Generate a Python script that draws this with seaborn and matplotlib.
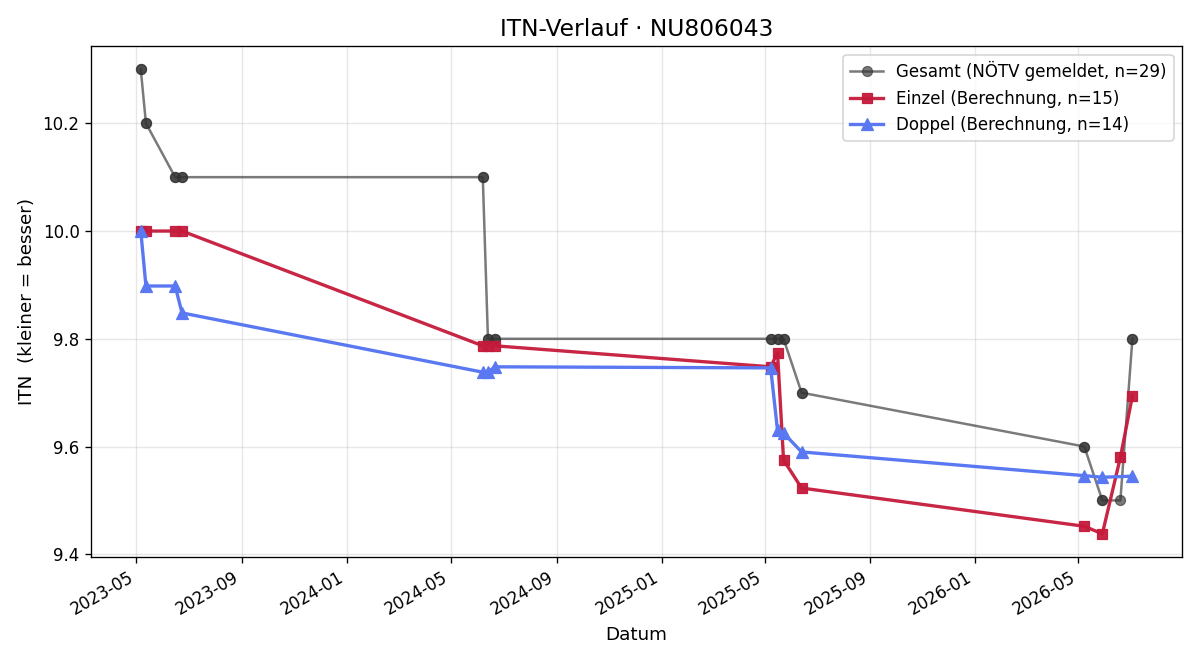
import pandas as pd
import numpy as np
import matplotlib.pyplot as plt
import matplotlib.dates as mdates
import seaborn as sns

# Gesamt (reported ITN, one point per match -> dates repeat)
gesamt_dates = ["2023-05-06","2023-05-06","2023-05-12","2023-05-12","2023-06-15","2023-06-15",
                "2023-06-23","2023-06-23","2024-06-07","2024-06-07","2024-06-13","2024-06-13",
                "2024-06-21","2024-06-21","2025-05-08","2025-05-08","2025-05-16","2025-05-16",
                "2025-05-23","2025-05-23","2025-06-13","2025-06-13","2026-05-08","2026-05-08",
                "2026-05-29","2026-05-29","2026-06-19","2026-07-03","2026-07-03"]
gesamt_itn = [10.3,10.3,10.2,10.2,10.1,10.1,10.1,10.1,10.1,10.1,9.8,9.8,9.8,9.8,
              9.8,9.8,9.8,9.8,9.8,9.8,9.7,9.7,9.6,9.6,9.5,9.5,9.5,9.8,9.8]

einzel_dates = ["2023-05-06","2023-05-12","2023-06-15","2023-06-23","2024-06-07","2024-06-13",
                "2024-06-21","2025-05-08","2025-05-16","2025-05-23","2025-06-13","2026-05-08",
                "2026-05-29","2026-06-19","2026-07-03"]
einzel_itn = [10.0,10.0,10.0,10.0,9.787,9.787,9.787,9.748,9.774,9.575,9.523,9.452,9.438,9.580,9.694]

doppel_dates = ["2023-05-06","2023-05-12","2023-06-15","2023-06-23","2024-06-07","2024-06-13",
                "2024-06-21","2025-05-08","2025-05-16","2025-05-23","2025-06-13","2026-05-08",
                "2026-05-29","2026-07-03"]
doppel_itn = [10.0,9.898,9.898,9.848,9.738,9.738,9.748,9.746,9.630,9.625,9.590,9.546,9.543,9.545]

df_g = pd.DataFrame({"Datum": pd.to_datetime(gesamt_dates), "ITN": gesamt_itn})
df_e = pd.DataFrame({"Datum": pd.to_datetime(einzel_dates), "ITN": einzel_itn})
df_d = pd.DataFrame({"Datum": pd.to_datetime(doppel_dates), "ITN": doppel_itn})

fig, ax = plt.subplots(figsize=(10, 5.5), dpi=120)

sns.lineplot(data=df_g, x="Datum", y="ITN", estimator=None, sort=False, ax=ax,
             color="#333333", alpha=0.65, linewidth=1.5, marker="o", markersize=6,
             markeredgecolor="#333333", label="Gesamt (NÖTV gemeldet, n=29)")
sns.lineplot(data=df_e, x="Datum", y="ITN", estimator=None, sort=False, ax=ax,
             color="#c41a3b", alpha=0.95, linewidth=2, marker="s", markersize=6.5,
             markeredgecolor="#c41a3b", label="Einzel (Berechnung, n=15)")
sns.lineplot(data=df_d, x="Datum", y="ITN", estimator=None, sort=False, ax=ax,
             color="#5a78f2", linewidth=2, marker="^", markersize=7,
             markeredgecolor="#5a78f2", label="Doppel (Berechnung, n=14)")

ax.xaxis.set_major_locator(mdates.MonthLocator(bymonth=[1, 5, 9]))
ax.xaxis.set_major_formatter(mdates.DateFormatter("%Y-%m"))
fig.autofmt_xdate()

ax.set_title("ITN-Verlauf · NU806043", fontsize=14)
ax.set_xlabel("Datum", fontsize=11)
ax.set_ylabel("ITN  (kleiner = besser)", fontsize=11)
ax.tick_params(labelsize=10)
ax.grid(True, alpha=0.3)
ax.legend(loc="upper right", fontsize=10)

fig.subplots_adjust(left=0.076, right=0.985, top=0.930, bottom=0.156)
plt.savefig("out.png")
